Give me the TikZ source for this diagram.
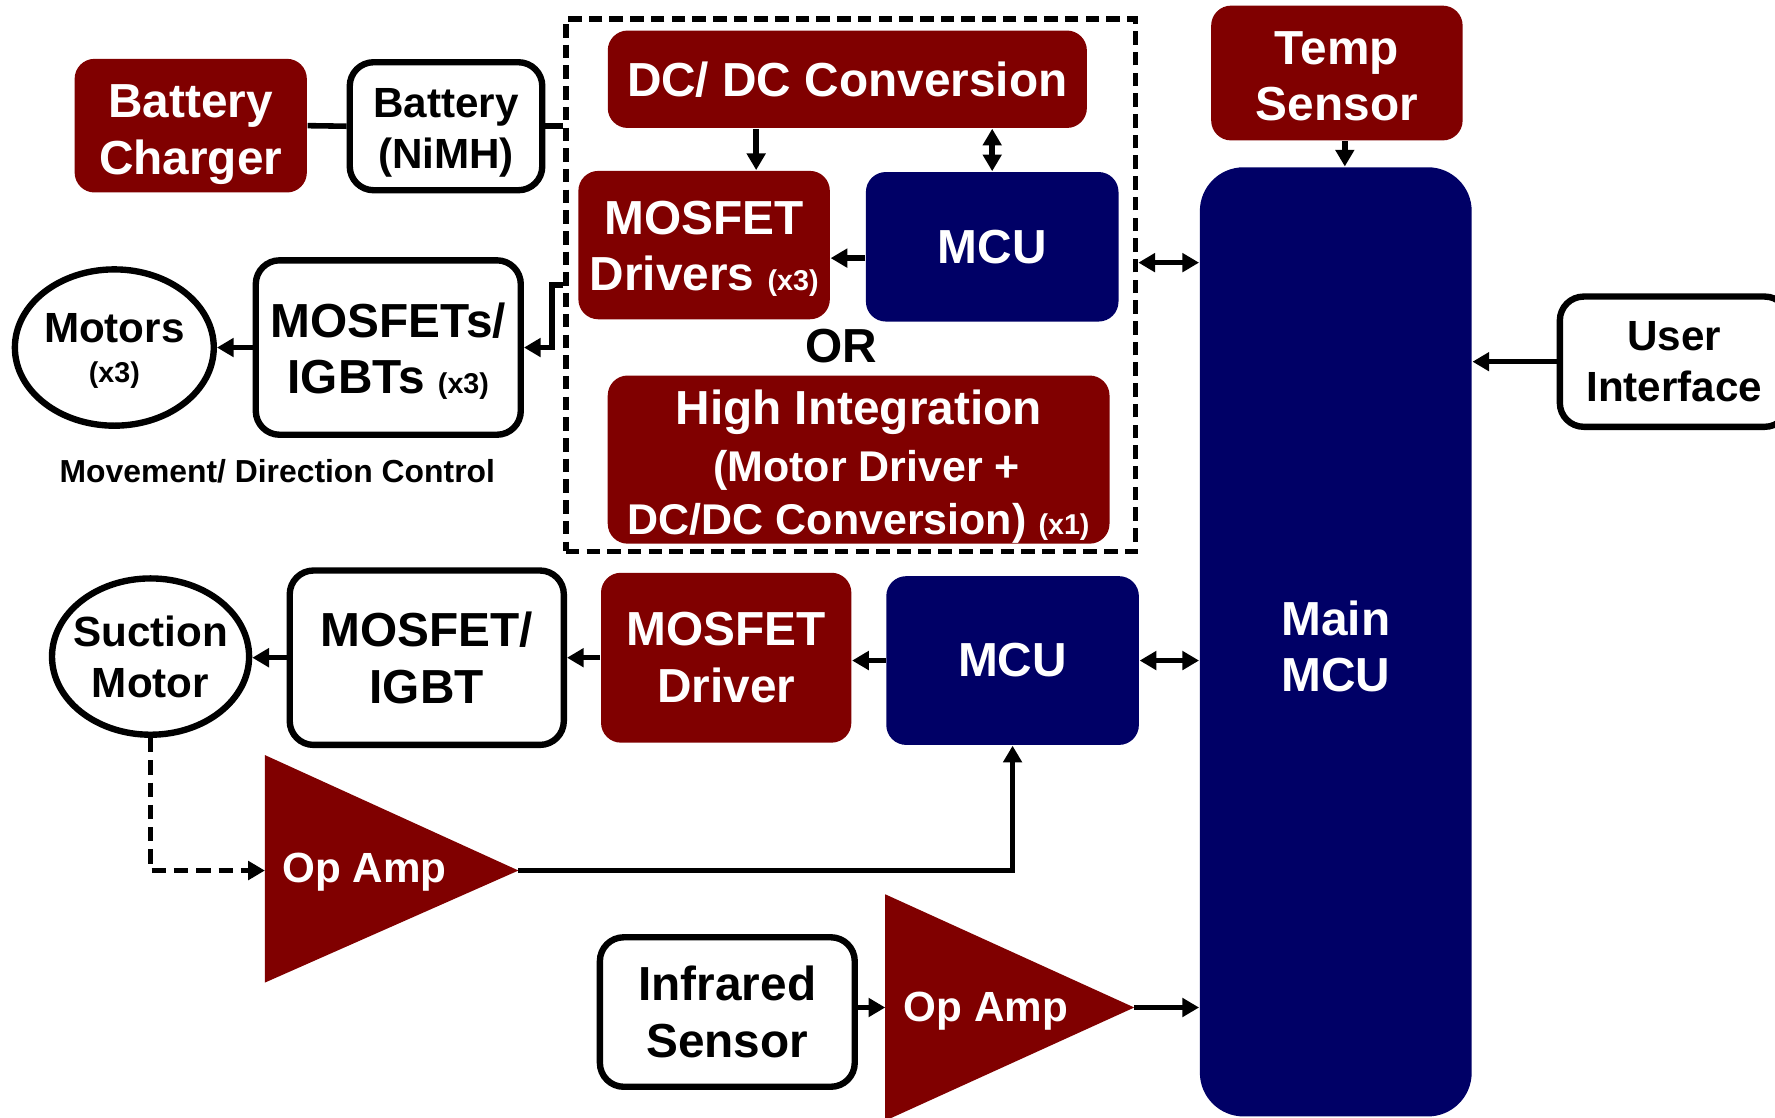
\documentclass[tikz,border=0pt]{standalone}
\usepackage{fontspec}
\setmainfont{Liberation Sans}
\usetikzlibrary{arrows.meta,shapes.geometric}
\definecolor{dred}{RGB}{128,0,0}
\definecolor{navy}{RGB}{0,0,102}
\newcommand\smx[1]{{\fontsize{7.2}{8}\selectfont #1}}
\newcommand\tstrut[1]{\rule{0pt}{#1}}
\begin{document}
\begin{tikzpicture}[x=0.01cm,y=-0.01cm,
  bigf/.style={font=\bfseries\fontsize{12}{14.2}\selectfont},
  medf/.style={font=\bfseries\fontsize{10.6}{12.8}\selectfont},
  redbox/.style={fill=dred,text=white,rounded corners=5pt,inner sep=0pt,align=center,bigf},
  navybox/.style={fill=navy,text=white,rounded corners=5pt,inner sep=0pt,align=center,bigf},
  whitebox/.style={draw=black,line width=1.6pt,fill=white,rounded corners=6pt,inner sep=0pt,align=center,bigf},
  ell/.style={ellipse,draw=black,line width=1.6pt,fill=white,inner xsep=0pt,inner ysep=0pt,align=center,medf},
  tip/.tip={Triangle[length=4.2pt,width=4.6pt]},
  arr/.style={line width=1.4pt,-tip},
  darr/.style={line width=1.4pt,tip-tip},
  dashline/.style={line width=1.4pt,dash pattern=on 3.4pt off 1.8pt},
]
\useasboundingbox (0,0) rectangle (1568,987);

% helper levels
\coordinate (hy252) at (0,252);
\coordinate (hx668) at (668,0);
\coordinate (hy228) at (0,228);
\coordinate (hy232) at (0,232);
\coordinate (hx1188) at (1188,0);

% dashed group
\node[dashline,draw,minimum width=5.03cm,minimum height=4.70cm,inner sep=0pt] (grp) at (751.5,252) {};

% top-left
\node[redbox,minimum width=2.05cm,minimum height=1.18cm] (charger) at (168.5,111) {\tstrut{12.8pt}Battery\\Charger};
\node[whitebox,medf,minimum width=1.70cm,minimum height=1.13cm] (battery) at (394,111.5) {\tstrut{10.8pt}Battery\\(NiMH)};

% inside group
\node[redbox,minimum width=4.23cm,minimum height=0.86cm] (dcdc) at (748.5,70) {DC/ DC Conversion};
\node[redbox,minimum width=2.22cm,minimum height=1.31cm] (drivers) at (622,216.5) {\tstrut{10.3pt}MOSFET\\Drivers \smx{(x3)}};
\node[navybox,minimum width=2.23cm,minimum height=1.32cm] (mcua) at (876.5,218) {MCU};
\node[bigf,text=black,inner sep=0pt] (or) at (743,306) {OR};
\node[redbox,font=\bfseries\fontsize{10.8}{13.3}\selectfont,minimum width=4.43cm,minimum height=1.48cm] (hi) at (758.5,406)
  {\tstrut{12.2pt}{\fontsize{12}{13.3}\selectfont High Integration}\\[1.2pt]\hspace*{4pt}(Motor Driver +\\DC/DC Conversion) \smx{(x1)}};

% right side
\node[redbox,minimum width=2.22cm,minimum height=1.19cm] (temp) at (1181,64.5) {\tstrut{9.8pt}Temp\\Sensor};
\node[navybox,rounded corners=11pt,minimum width=2.40cm,minimum height=8.38cm] (main) at (1180,567) {};
\node[text=white,bigf,align=center,inner sep=0pt] (maintxt) at (1180,571) {Main\\MCU};
\node[whitebox,medf,minimum width=2.02cm,minimum height=1.15cm] (ui) at (1479,319.5) {User\\Interface};

% movement
\node[ell,minimum width=1.75cm,minimum height=1.38cm] (motors) at (101,307) {\tstrut{9.2pt}Motors\\[-2.8pt]\smx{(x3)}};
\node[whitebox,minimum width=2.34cm,minimum height=1.54cm] (mosfets) at (343,307) {\tstrut{10.6pt}MOSFETs/\\IGBTs \smx{(x3)}};
\node[font=\bfseries\fontsize{8}{9.6}\selectfont,inner sep=0pt] (mv) at (245,416) {Movement/ Direction Control};

% suction row
\node[ell,inner xsep=-2pt,minimum width=1.74cm,minimum height=1.38cm] (suction) at (133,580) {Suction\\Motor};
\node[whitebox,minimum width=2.42cm,minimum height=1.54cm] (mosfet) at (377,581) {MOSFET/\\IGBT};
\node[redbox,minimum width=2.21cm,minimum height=1.50cm] (driver) at (641.5,581) {MOSFET\\Driver};
\node[navybox,minimum width=2.23cm,minimum height=1.49cm] (mcub) at (894.5,583.5) {MCU};

% op amps
\fill[dred] (234,667) -- (458,769) -- (234,868) -- cycle;
\coordinate (oa1in) at (234,769);
\coordinate (oa1tip) at (458,769);
\node[medf,text=white,inner sep=0pt] (oa1) at (322,770) {Op Amp};
\fill[dred] (782,790) -- (1002,890) -- (782,990) -- cycle;
\coordinate (oa2in) at (782,890);
\coordinate (oa2tip) at (1002,890);
\node[medf,text=white,inner sep=0pt] (oa2) at (871,893) {Op Amp};

\node[whitebox,minimum width=2.25cm,minimum height=1.32cm] (ir) at (642.5,894) {Infrared\\Sensor};

% connectors
\draw[line width=1.4pt] (charger.east) -- (battery.west);
\draw[line width=1.4pt] (battery.east) -- (battery.east -| grp.west);
\draw[arr] (grp.west |- hy252) -- ++(-10,0) |- (mosfets.east);
\draw[arr] (mosfets.west) -- (mosfets.west -| motors.east);
\draw[arr] (dcdc.south -| hx668) -- (drivers.north -| hx668);
\draw[darr] (dcdc.south -| mcua.north) -- (mcua.north);
\draw[arr] (mcua.west |- hy228) -- (drivers.east |- hy228);
\draw[darr] (grp.east |- hy232) -- (main.west |- hy232);
\draw[arr] (temp.south -| hx1188) -- (main.north -| hx1188);
\draw[arr] (ui.west) -- (ui.west -| main.east);
\draw[arr] (mcub.west) -- (mcub.west -| driver.east);
\draw[arr] (driver.west) -- (driver.west -| mosfet.east);
\draw[arr] (mosfet.west) -- (mosfet.west -| suction.east);
\draw[darr] (mcub.east) -- (mcub.east -| main.west);
\draw[arr,dash pattern=on 3.6pt off 2pt] (suction.south) |- (oa1in);
\draw[arr] (oa1tip) -| (mcub.south);
\draw[arr] (ir.east |- oa2in) -- (oa2in);
\draw[arr] (oa2tip) -- (oa2tip -| main.west);
\end{tikzpicture}
\end{document}
